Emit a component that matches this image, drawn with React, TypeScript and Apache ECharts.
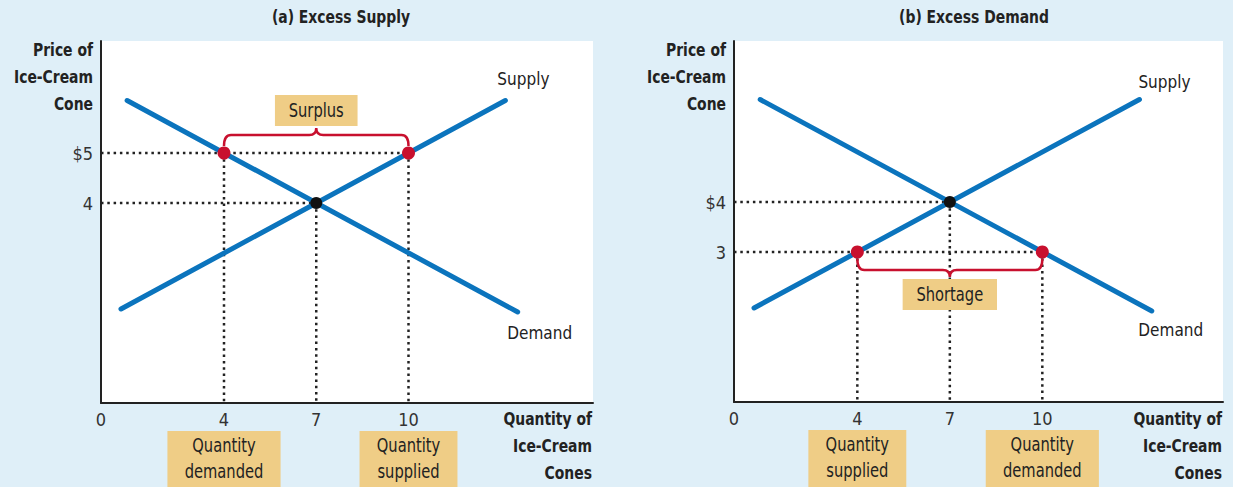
import React, { useEffect, useRef } from "react";
import * as echarts from "echarts";

// ---------- data ----------
const quantityTicks = [0, 4, 7, 10];
const supplyCurve = [[0.65, 1.88], [13.15, 6.05]];
const demandCurve = [[0.85, 6.05], [13.55, 1.82]];
const equilibrium = [7, 4];

const panelAPriceTicks = [5, 4];
const panelAPriceLabels = ["$5", "4"];
const panelARedPoints = [[4, 5], [10, 5]];
const panelABrace = [[4, 10, 5, 1]]; // from q, to q, price, direction (1 = above)
const panelABraceLabel = ["Surplus"];
const panelABoxQ = [4, 10];
const panelABoxLabels = ["Quantity\ndemanded", "Quantity\nsupplied"];

const panelBPriceTicks = [4, 3];
const panelBPriceLabels = ["$4", "3"];
const panelBRedPoints = [[4, 3], [10, 3]];
const panelBBrace = [[4, 10, 3, -1]];
const panelBBraceLabel = ["Shortage"];
const panelBBoxQ = [4, 10];
const panelBBoxLabels = ["Quantity\nsupplied", "Quantity\ndemanded"];

const titles = ["(a) Excess Supply", "(b) Excess Demand"];
const yName = "Price of\nIce-Cream\nCone";
const xName = "Quantity of\nIce-Cream\nCones";

// ---------- style ----------
const FONT = '"Liberation Sans Narrow", "DejaVu Sans Condensed", "Roboto Condensed", "Roboto", sans-serif';
const BG = "#dfeff8";
const BLUE = "#0b74bd";
const RED = "#c8102e";
const YELLOW = "#efcd86";
const DARK = "#222";
const SX = 0.86; // horizontal squeeze to mimic a condensed face

function buildPanel(idx: number, cfg: any) {
  const priceMap: Record<string, string> = {};
  cfg.priceTicks.forEach((p: number, i: number) => (priceMap[String(p)] = cfg.priceLabels[i]));

  const xAxis = {
    type: "value",
    gridIndex: idx,
    min: 0,
    max: cfg.xMax,
    interval: 1,
    axisLine: { show: true, lineStyle: { color: DARK, width: 2 } },
    axisTick: { show: false },
    splitLine: { show: false },
    axisLabel: {
      showMaxLabel: false,
      margin: 7,
      color: "#333",
      fontSize: 18,
      fontFamily: FONT,
      formatter: (v: number) => (quantityTicks.includes(v) ? String(v) : ""),
    },
  };
  const yAxis = {
    type: "value",
    gridIndex: idx,
    min: 0,
    max: cfg.yMax,
    interval: 1,
    axisLine: { show: true, lineStyle: { color: DARK, width: 2 } },
    axisTick: { show: false },
    splitLine: { show: false },
    axisLabel: {
      showMaxLabel: false,
      margin: 8,
      color: "#333",
      fontSize: 18,
      fontFamily: FONT,
      formatter: (v: number) => priceMap[String(v)] || "",
    },
  };

  // guide lines built from points
  const allPts = [...cfg.redPoints, equilibrium];
  const guides: any[] = [];
  cfg.priceTicks.forEach((p: number) => {
    const qs = allPts.filter((pt: number[]) => pt[1] === p).map((pt: number[]) => pt[0]);
    guides.push([[0, p], [Math.max(...qs), p]]);
  });
  allPts.forEach((pt: number[]) => guides.push([[pt[0], pt[1]], [pt[0], 0]]));

  const series: any[] = [];
  guides.forEach((g) => {
    series.push({
      type: "line",
      xAxisIndex: idx,
      yAxisIndex: idx,
      data: g,
      symbol: "none",
      silent: true,
      z: 1,
      lineStyle: { color: DARK, width: 2.5, type: [2.5, 3.8] },
    });
  });

  const curve = (pts: number[][], name: string, pos: string, off: number[]) => ({
    type: "line",
    xAxisIndex: idx,
    yAxisIndex: idx,
    z: 2,
    symbol: "circle",
    symbolSize: 1,
    itemStyle: { color: BLUE },
    lineStyle: { color: BLUE, width: 5, cap: "round" },
    data: pts.map((p, i) =>
      i === pts.length - 1
        ? {
            value: p,
            label: {
              show: true,
              formatter: name,
              position: pos,
              offset: off,
              color: DARK,
              fontSize: 17,
              fontFamily: FONT,
            },
          }
        : { value: p }
    ),
  });
  series.push(curve(supplyCurve, "Supply", "top", cfg.supplyOff));
  series.push(curve(demandCurve, "Demand", "bottom", cfg.demandOff));

  series.push({
    type: "scatter",
    xAxisIndex: idx,
    yAxisIndex: idx,
    z: 4,
    symbolSize: 13,
    itemStyle: { color: RED, opacity: 1 },
    data: cfg.redPoints,
  });
  series.push({
    type: "scatter",
    xAxisIndex: idx,
    yAxisIndex: idx,
    z: 4,
    symbolSize: 12,
    itemStyle: { color: "#111", opacity: 1 },
    data: [equilibrium],
  });

  // brace + label
  series.push({
    type: "custom",
    xAxisIndex: idx,
    yAxisIndex: idx,
    z: 5,
    encode: { x: [0, 1], y: 2 },
    data: cfg.brace,
    renderItem: (params: any, api: any) => {
      const x1 = api.value(0), x2 = api.value(1), p = api.value(2), dir = api.value(3);
      const a = api.coord([x1, p]);
      const b = api.coord([x2, p]);
      const s = -dir;
      const yEnd = a[1] + s * 7;
      const yH = a[1] + s * 18;
      const yTip = a[1] + s * 25;
      const xm = (a[0] + b[0]) / 2;
      const r = 7;
      const d =
        `M${a[0]},${yEnd} Q${a[0]},${yH} ${a[0] + r},${yH} L${xm - r},${yH} ` +
        `Q${xm},${yH} ${xm},${yTip} Q${xm},${yH} ${xm + r},${yH} ` +
        `L${b[0] - r},${yH} Q${b[0]},${yH} ${b[0]},${yEnd}`;
      return {
        type: "group",
        children: [
          {
            type: "path",
            shape: { pathData: d },
            style: { fill: "none", stroke: RED, lineWidth: 2.5 },
          },
          {
            type: "text",
            x: xm,
            y: yTip + s * 2,
            scaleX: SX,
            style: {
              text: cfg.braceLabel[params.dataIndex],
              align: "center",
              verticalAlign: dir > 0 ? "bottom" : "top",
              font: `19px ${FONT}`,
              fill: DARK,
              backgroundColor: YELLOW,
              padding: [6, 16, 6, 16],
            },
          },
        ],
      };
    },
  });

  // quantity boxes below axis
  series.push({
    type: "custom",
    xAxisIndex: idx,
    yAxisIndex: idx,
    z: 5,
    clip: false,
    encode: { x: 0, y: 1 },
    data: cfg.boxQ.map((q: number) => [q, 0]),
    renderItem: (params: any, api: any) => {
      const c = api.coord([api.value(0), api.value(1)]);
      return {
        type: "text",
        x: c[0],
        y: c[1] + 28,
        scaleX: SX,
        style: {
          text: cfg.boxLabels[params.dataIndex],
          align: "center",
          verticalAlign: "top",
          font: `19px ${FONT}`,
          lineHeight: 26,
          fill: DARK,
          backgroundColor: YELLOW,
          padding: [2, 20, 20, 20],
        },
      };
    },
  });

  return { xAxis, yAxis, series };
}

export default function App() {
  const ref = useRef<HTMLDivElement>(null);
  useEffect(() => {
    document.body.style.margin = "0";
    const chart = echarts.init(ref.current!, undefined, { renderer: "svg" });
    const pA = buildPanel(0, {
      xMax: 16,
      yMax: 7.24,
      priceTicks: panelAPriceTicks,
      priceLabels: panelAPriceLabels,
      redPoints: panelARedPoints,
      brace: panelABrace,
      braceLabel: panelABraceLabel,
      boxQ: panelABoxQ,
      boxLabels: panelABoxLabels,
      supplyOff: [18, -8],
      demandOff: [22, 7],
    });
    const pB = buildPanel(1, {
      xMax: 15.86,
      yMax: 7.22,
      priceTicks: panelBPriceTicks,
      priceLabels: panelBPriceLabels,
      redPoints: panelBRedPoints,
      brace: panelBBrace,
      braceLabel: panelBBraceLabel,
      boxQ: panelBBoxQ,
      boxLabels: panelBBoxLabels,
      supplyOff: [25, -4],
      demandOff: [19, 5],
    });

    const txt = (text: string, x: number, y: number, align: string, vAlign: string, bold: boolean, size = 18) => ({
      type: "text",
      x,
      y,
      z: 10,
      scaleX: SX,
      style: {
        text,
        align,
        verticalAlign: vAlign,
        font: `${bold ? "bold " : ""}${size}px ${FONT}`,
        lineHeight: 27,
        fill: DARK,
      },
    });

    chart.setOption({
      animation: false,
      backgroundColor: BG,
      grid: [
        { left: 101, top: 41, width: 492, height: 362, show: true, backgroundColor: "#fff", borderWidth: 0 },
        { left: 734, top: 41, width: 489, height: 361, show: true, backgroundColor: "#fff", borderWidth: 0 },
      ],
      xAxis: [pA.xAxis, pB.xAxis],
      yAxis: [pA.yAxis, pB.yAxis],
      series: [...pA.series, ...pB.series],
      graphic: [
        txt(titles[0], 341, 17, "center", "middle", true, 18),
        txt(titles[1], 974, 17, "center", "middle", true, 18),
        txt(yName, 93, 36.5, "right", "top", true),
        txt(yName, 726, 36.5, "right", "top", true),
        txt(xName, 592, 405.5, "right", "top", true),
        txt(xName, 1222, 405.5, "right", "top", true),
      ],
    });
    return () => chart.dispose();
  }, []);
  return <div ref={ref} style={{ width: 1233, height: 487, background: BG }} />;
}
